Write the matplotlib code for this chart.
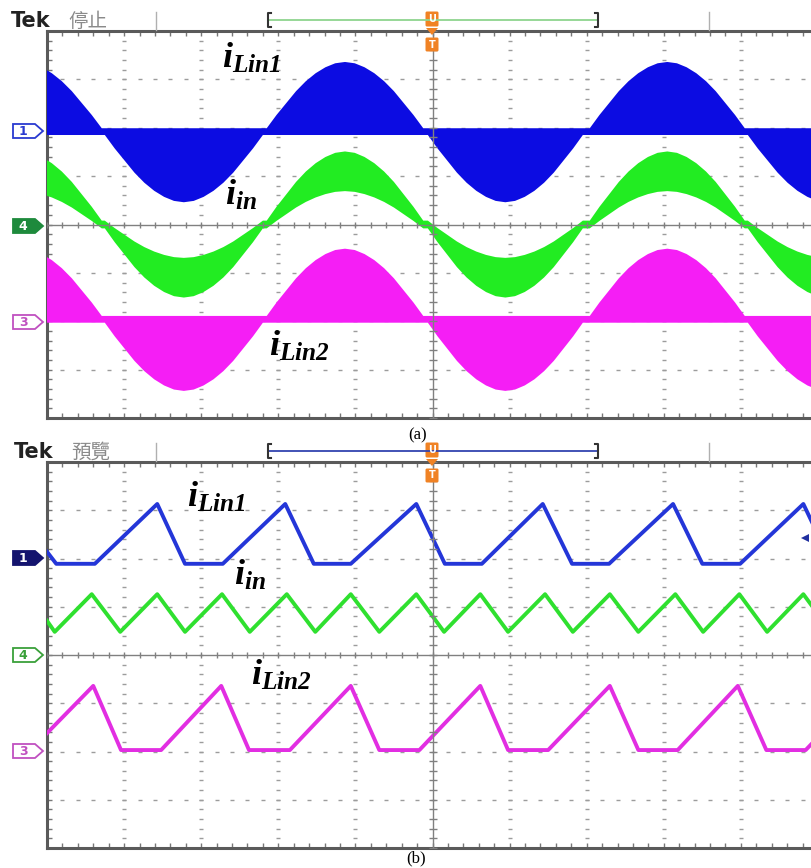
import numpy as np
import matplotlib.pyplot as plt
from matplotlib.patches import Polygon, FancyBboxPatch

plt.rcParams['mathtext.fontset'] = 'custom'
plt.rcParams['mathtext.rm'] = 'Liberation Serif:italic:bold'
plt.rcParams['mathtext.it'] = 'Liberation Serif:italic:bold'
plt.rcParams['mathtext.bf'] = 'Liberation Serif:italic:bold'

# ---- data, in screen divisions (10 x 8 graticule, 0 = centre line) ----
# (a) line-frequency half cycles: start, end (div) and polarity
a_lobe_start = [-1.36, 0.75, 2.85, 4.94, 7.04, 9.09]
a_lobe_end = [0.71, 2.80, 4.88, 6.95, 9.05, 11.15]
a_lobe_sign = [1, -1, 1, -1, 1, -1]
# normalised half-cycle envelope (17 points across a lobe)
a_lobe_shape = [0.0, 0.20, 0.38, 0.56, 0.71, 0.83, 0.92, 0.98, 1.0,
                0.98, 0.92, 0.83, 0.71, 0.56, 0.38, 0.20, 0.0]
# iLin1 (ch1): flat band between 1.85 and 1.99, lobes of 1.37 up / 1.39 down
blue_band = [1.85, 1.99]
blue_amp = [1.37, 1.39]
# iin (ch4): centre swing 1.10, band half-width 0.08 at zero, 0.41 at peak
green_swing = 1.10
green_halfwidth = [0.08, 0.41]
# iLin2 (ch3): flat band between -2.03 and -1.89, lobes of 1.39 up / 1.41 down
pink_band = [-2.03, -1.89]
pink_amp = [1.39, 1.41]

# (b) switching-frequency waveforms
b_blue_t = [0.0, 0.12, 0.62, 1.43, 1.79, 2.28, 3.09, 3.46, 3.94, 4.79, 5.16, 5.64,
            6.43, 6.81, 7.29, 8.12, 8.50, 8.99, 9.81, 10.18]
b_blue_v = [2.14, 1.89, 1.89, 3.13, 1.89, 1.89, 3.13, 1.89, 1.89, 3.13, 1.89, 1.89,
            3.13, 1.89, 1.89, 3.13, 1.89, 1.89, 3.13, 1.89]
b_green_t = [0.0, 0.10, 0.58, 0.95, 1.43, 1.79, 2.27, 2.63, 3.11, 3.48, 3.94, 4.31,
             4.79, 5.15, 5.62, 5.98, 6.46, 6.82, 7.30, 7.67, 8.15, 8.51, 8.98, 9.34,
             9.81, 10.17]
b_green_v = [0.71, 0.48, 1.26, 0.48, 1.26, 0.48, 1.26, 0.48, 1.26, 0.48, 1.26, 0.48,
             1.26, 0.48, 1.26, 0.48, 1.26, 0.48, 1.26, 0.48, 1.26, 0.48, 1.26, 0.48,
             1.26, 0.48]
b_pink_t = [0.0, 0.60, 0.96, 1.48, 2.26, 2.62, 3.15, 3.94, 4.31, 4.83, 5.62, 5.98,
            6.50, 7.30, 7.67, 8.18, 8.96, 9.33, 9.84, 10.64]
b_pink_v = [-1.62, -0.64, -1.97, -1.97, -0.64, -1.97, -1.97, -0.64, -1.97, -1.97,
            -0.64, -1.97, -1.97, -0.64, -1.97, -1.97, -0.64, -1.97, -1.97, -0.64]

labels = [r'$i_{Lin1}$', r'$i_{in}$', r'$i_{Lin2}$']
status = ['停止', '預覽']
captions = ['(a)', '(b)']


# build the envelope table for (a) from the lobe list
t_list, shape_list, sign_list = [], [], []
for st, en, sg in zip(a_lobe_start, a_lobe_end, a_lobe_sign):
    n = len(a_lobe_shape)
    t_list += [st + (en - st) * k / (n - 1) for k in range(n)]
    shape_list += a_lobe_shape
    sign_list += [sg] * n
a_t = np.array(t_list)
a_s = np.array(shape_list)
a_pos = np.array(sign_list) > 0

blue_hi = np.where(a_pos, blue_band[1] + blue_amp[0] * a_s, blue_band[1])
blue_lo = np.where(a_pos, blue_band[0], blue_band[0] - blue_amp[1] * a_s)
pink_hi = np.where(a_pos, pink_band[1] + pink_amp[0] * a_s, pink_band[1])
pink_lo = np.where(a_pos, pink_band[0], pink_band[0] - pink_amp[1] * a_s)
g_centre = np.array(sign_list) * green_swing * a_s
g_half = green_halfwidth[0] + (green_halfwidth[1] - green_halfwidth[0]) * a_s
green_hi = g_centre + g_half
green_lo = g_centre - g_half

W, H = 811, 868
fig = plt.figure(figsize=(W / 100, H / 100), dpi=100)
fig.patch.set_facecolor('white')

FRAME = '#5a5a5a'
DOTS = '#9c9c9c'


def make_panel(top_px, bot_px):
    ax = fig.add_axes([47 / W, 1 - bot_px / H, 771 / W, (bot_px - top_px) / H])
    ax.set_xlim(0, 10)
    ax.set_ylim(-4, 4)
    for s in ['left', 'top', 'bottom']:
        ax.spines[s].set_color(FRAME)
        ax.spines[s].set_linewidth(2.2)
    ax.spines['right'].set_visible(False)
    ax.set_xticks(np.arange(0, 10.01, 0.2))
    ax.set_yticks(np.arange(-4, 4.01, 0.2))
    ax.tick_params(direction='in', length=3.5, width=1, color='#777777',
                   top=True, bottom=True, left=True, right=False,
                   labelbottom=False, labelleft=False)
    yy = np.arange(-4, 4.01, 0.2)
    xx = np.arange(0, 10.01, 0.2)
    for gx in [1, 2, 3, 4, 6, 7, 8, 9]:
        ax.plot([gx] * len(yy), yy, ls='none', marker='_', ms=3, mew=1, color=DOTS, zorder=1)
    for gy in [-3, -2, -1, 1, 2, 3]:
        ax.plot(xx, [gy] * len(xx), ls='none', marker='_', ms=3, mew=1, color=DOTS, zorder=1)
    # centre cross with its own ticks
    ax.axhline(0, color='#808080', lw=1, zorder=4)
    ax.axvline(5, color='#808080', lw=1, zorder=4)
    ax.plot(xx, [0] * len(xx), ls='none', marker='|', ms=5, mew=1, color='#808080', zorder=4)
    ax.plot([5] * len(yy), yy, ls='none', marker='_', ms=6, mew=1, color='#808080', zorder=4)
    return ax


ax_a = make_panel(31, 418)
ax_a.fill_between(a_t, blue_lo, blue_hi, color='#0c0ce2', lw=0, zorder=3)
ax_a.fill_between(a_t, green_lo, green_hi, color='#22ec22', lw=0, zorder=3)
ax_a.fill_between(a_t, pink_lo, pink_hi, color='#f51ef5', lw=0, zorder=3)

ax_b = make_panel(462, 848)
ax_b.plot(b_blue_t, b_blue_v, color='#2436d8', lw=2.8, zorder=3)
ax_b.plot(b_green_t, b_green_v, color='#2fe02f', lw=2.8, zorder=3)
ax_b.plot(b_pink_t, b_pink_v, color='#e22ee2', lw=2.8, zorder=3)

# ---- overlay in pixel coordinates for the scope decorations ----
ov = fig.add_axes([0, 0, 1, 1], zorder=6)
ov.set_xlim(0, W)
ov.set_ylim(H, 0)
ov.axis('off')
ov.patch.set_alpha(0)


def header(y0, tek_x, txt, bar_color):
    # y0 = pixel row of the top frame line
    ov.text(tek_x, y0 - 4, 'Tek', fontsize=15, fontweight='bold', color='#222222', va='baseline')
    ov.text(tek_x + 57, y0 - 4, txt, fontsize=14, color='#8a8a8a', va='baseline',
            family=['Noto Sans CJK TC', 'DejaVu Sans'])
    for sx in [156, 709]:
        ov.plot([sx, sx], [y0 - 19, y0 - 1], color='#b0b0b0', lw=1)
    by = y0 - 11
    ov.plot([268, 598], [by, by], color=bar_color, lw=1.3)
    ov.plot([271, 268, 268, 271], [by - 7, by - 7, by + 7, by + 7], color='#333333', lw=1.5)
    ov.plot([595, 598, 598, 595], [by - 7, by - 7, by + 7, by + 7], color='#333333', lw=1.5)
    # trigger markers
    ov.add_patch(FancyBboxPatch((427, y0 - 18), 10, 12, boxstyle='round,pad=1.5',
                                fc='#f08224', ec='none'))
    ov.add_patch(Polygon([[426, y0 - 3], [438, y0 - 3], [432, y0 + 4]], fc='#f08224', ec='none'))
    ov.text(432, y0 - 12, 'U', fontsize=7, fontweight='bold', color='white', ha='center', va='center')
    ov.add_patch(FancyBboxPatch((427, y0 + 8), 10, 11, boxstyle='round,pad=1.5',
                                fc='#f08224', ec='none'))
    ov.text(432, y0 + 13.5, 'T', fontsize=7, fontweight='bold', color='white', ha='center', va='center')


def ch_marker(y, label, edge, face, tc):
    ov.add_patch(Polygon([[13, y - 7], [35, y - 7], [43, y], [35, y + 7], [13, y + 7]],
                         closed=True, fc=face, ec=edge, lw=1.3))
    ov.text(23, y + 0.5, label, fontsize=9, fontweight='bold', color=tc, ha='center', va='center')


header(31, 11, status[0], '#8fd48f')
header(462, 14, status[1], '#3344b0')

ch_marker(131, '1', '#2a3ad0', 'white', '#2a3ad0')
ch_marker(226, '4', '#1e8a3c', '#1e8a3c', 'white')
ch_marker(322, '3', '#c050c0', 'white', '#c050c0')
ch_marker(558, '1', '#14146e', '#14146e', 'white')
ch_marker(655, '4', '#3aa03a', 'white', '#3aa03a')
ch_marker(751, '3', '#c050c0', 'white', '#c050c0')

# off-screen indicator on the right of (b)
ov.add_patch(Polygon([[801, 538], [809, 534], [809, 542]], fc='#2030a0', ec='none'))

# channel labels
lab_pos_a = [(222, 68), (225, 205), (269, 356)]
lab_pos_b = [(187, 507), (234, 585), (251, 685)]
for (x, y), s in zip(lab_pos_a, labels):
    ov.text(x, y, s, fontsize=26, color='black', va='baseline', ha='left')
for (x, y), s in zip(lab_pos_b, labels):
    ov.text(x, y, s, fontsize=26, color='black', va='baseline', ha='left')

ov.text(418, 435, captions[0], fontsize=12, family='Liberation Serif', ha='center', va='center')
ov.text(416, 858, captions[1], fontsize=12, family='Liberation Serif', ha='center', va='center')

fig.savefig('out.png', dpi=100)
